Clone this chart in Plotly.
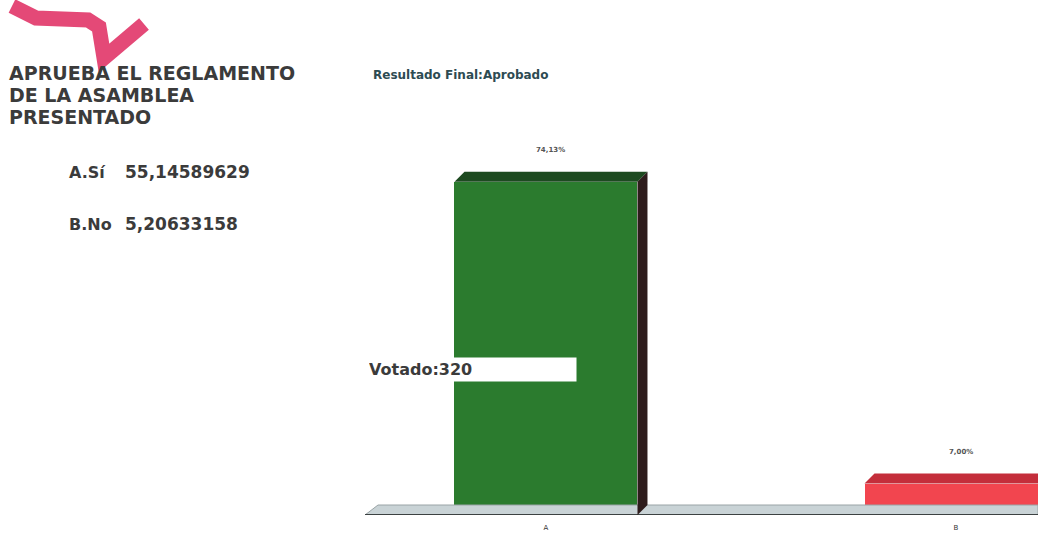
import plotly.graph_objects as go

# ---- data ----
categories = ["A", "B"]
values = [55.14589629, 5.20633158]
pct_labels = ["74,13%", "7,00%"]
legend_keys = ["A.Sí", "B.No"]
legend_vals = ["55,14589629", "5,20633158"]
title_lines = ["APRUEBA EL REGLAMENTO", "DE LA ASAMBLEA", "PRESENTADO"]
subtitle = "Resultado Final:Aprobado"
voted = "Votado:320"

front_colors = ["#2b7b2e", "#f2454f"]
top_colors = ["#1d4a20", "#c42e3b"]
side_colors = ["#2e1c1c", "#b02a36"]

# ---- geometry / scale ----
W, H = 1038, 533
ML, MR, MT, MB = 365, 0, 60, 18
PW, PH = W - ML - MR, H - MT - MB
XR = [-0.4414, 1.2000]
YR = [0, 75.3]
ux = (XR[1] - XR[0]) / PW     # x units per pixel
uy = (YR[1] - YR[0]) / PH     # y units per pixel
BW = 183 * ux                  # bar front width
DX, DY = 10 * ux, 10 * uy      # 3D depth

def px(xpix):
    return (xpix - ML) / PW

def py(ypix):
    return (H - MB - ypix) / PH

fig = go.Figure()

# floor slab
fx0, fx1 = XR[0], XR[1]
fig.add_trace(go.Scatter(
    x=[fx0, fx0 + 1.3 * DX, fx1, fx1, fx0],
    y=[0, DY, DY, 0, 0],
    fill="toself", fillcolor="#c9d3d6", mode="lines",
    line=dict(color="#9aa4a6", width=1), hoverinfo="skip", showlegend=False))
fig.add_trace(go.Scatter(
    x=[fx0, fx1], y=[0, 0], mode="lines",
    line=dict(color="#3c4242", width=2), hoverinfo="skip", showlegend=False))

# front faces
fig.add_trace(go.Bar(
    x=list(range(len(categories))), y=values, width=BW,
    marker=dict(color=front_colors, line=dict(width=0)),
    hoverinfo="skip", showlegend=False))

# top and side faces derived from values
for i, v in enumerate(values):
    l, r = i - BW / 2, i + BW / 2
    fig.add_trace(go.Scatter(
        x=[l, l + DX, r + DX, r, l], y=[v, v + DY, v + DY, v, v],
        fill="toself", fillcolor=top_colors[i], mode="lines",
        line=dict(color=top_colors[i], width=0), hoverinfo="skip", showlegend=False))
    fig.add_trace(go.Scatter(
        x=[r, r + DX, r + DX, r, r], y=[v, v + DY, DY, 0, v],
        fill="toself", fillcolor=side_colors[i], mode="lines",
        line=dict(color=side_colors[i], width=0), hoverinfo="skip", showlegend=False))

annotations = []
# percent labels
for i, v in enumerate(values):
    annotations.append(dict(
        x=i + DX / 2, y=v + DY, xref="x", yref="y", text="<b>" + pct_labels[i] + "</b>",
        showarrow=False, yshift=22,
        font=dict(family="DejaVu Sans", size=7, color="#555555")))

# Title
for k, line in enumerate(title_lines):
    annotations.append(dict(
        x=px(7), y=py(73 + 22 * k), xref="paper", yref="paper", xanchor="left", yanchor="middle",
        text="<b>" + line + "</b>", showarrow=False,
        font=dict(family="DejaVu Sans", size=19, color="#3b3b3b")))
for k in range(len(legend_keys)):
    annotations.append(dict(
        x=px(67), y=py(172 + 52 * k), xref="paper", yref="paper", xanchor="left", yanchor="middle",
        text="<b>" + legend_keys[k] + "</b>", showarrow=False,
        font=dict(family="DejaVu Sans", size=16, color="#3b3b3b")))
    annotations.append(dict(
        x=px(123), y=py(172 + 52 * k), xref="paper", yref="paper", xanchor="left", yanchor="middle",
        text="<b>" + legend_vals[k] + "</b>", showarrow=False,
        font=dict(family="DejaVu Sans", size=17, color="#3b3b3b")))

annotations.append(dict(
    x=px(371), y=py(75), xref="paper", yref="paper", xanchor="left", yanchor="middle",
    text="<b>" + subtitle + "</b>", showarrow=False,
    font=dict(family="DejaVu Sans", size=12, color="#2d4b52")))

annotations.append(dict(
    x=px(368), y=py(369), xref="paper", yref="paper", xanchor="left", yanchor="middle",
    text="<b>" + voted + "</b>", showarrow=False, align="left",
    width=207, height=23, bgcolor="#ffffff", borderpad=0,
    font=dict(family="DejaVu Sans", size=16, color="#3b3b3b")))

# pink logo swoosh
pts = [(12, 6), (36, 18), (88, 20), (99, 27), (104, 58), (144, 24)]
path = "M " + " L ".join(f"{px(a)},{py(b)}" for a, b in pts)
shapes = [dict(type="path", xref="paper", yref="paper", path=path,
               line=dict(color="#e23a6c", width=15), opacity=0.92, layer="below")]

fig.update_layout(
    width=W, height=H,
    margin=dict(l=ML, r=MR, t=MT, b=MB),
    paper_bgcolor="#ffffff", plot_bgcolor="#ffffff",
    bargap=0,
    xaxis=dict(range=XR, tickmode="array", tickvals=[0, 1], ticktext=categories,
               showgrid=False, zeroline=False, showline=False, ticks="",
               ticklabelstandoff=7,
               tickfont=dict(family="DejaVu Sans", size=7, color="#333333")),
    yaxis=dict(range=YR, showgrid=False, zeroline=False, showline=False,
               showticklabels=False, ticks=""),
    annotations=annotations,
    shapes=shapes,
    showlegend=False,
)

fig.write_html("out.html")
